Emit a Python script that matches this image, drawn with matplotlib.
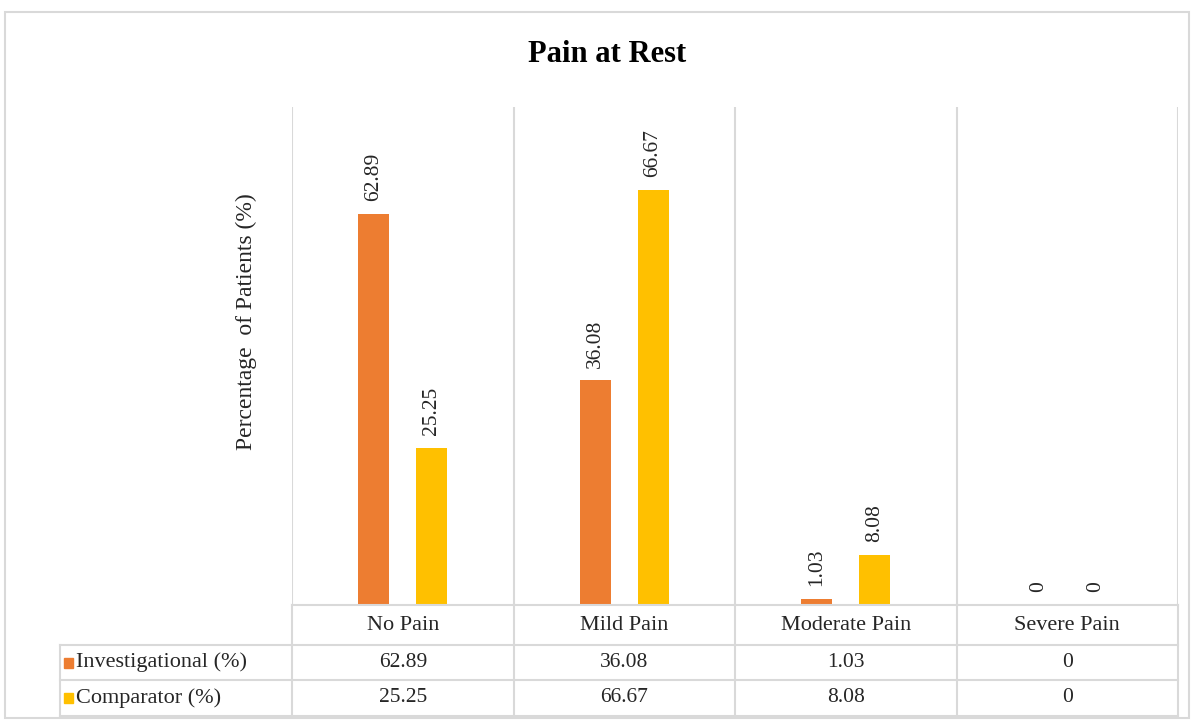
import matplotlib
matplotlib.use("Agg")
import matplotlib.pyplot as plt
from matplotlib.patches import Rectangle
from matplotlib.lines import Line2D
import numpy as np

categories = ["No Pain", "Mild Pain", "Moderate Pain", "Severe Pain"]
investigational = [62.89, 36.08, 1.03, 0]
comparator = [25.25, 66.67, 8.08, 0]
series_names = ["Investigational (%)", "Comparator (%)"]
colors = ["#ED7D31", "#FFC000"]

plt.rcParams['font.family'] = ['Liberation Serif', 'DejaVu Serif']

W, H = 1194, 724
fig = plt.figure(figsize=(W / 100, H / 100), dpi=100)

def fx(px):
    return px / W

def fy(py):
    return 1 - py / H

# outer chart border
fig.patches.append(Rectangle((fx(5), fy(718)), fx(1189) - fx(5), fy(12) - fy(718),
                             transform=fig.transFigure, fill=False,
                             edgecolor="#d9d9d9", linewidth=1.5))

left, right, top, base = 292, 1178, 107, 605
ax = fig.add_axes([fx(left), fy(base), fx(right) - fx(left), fy(top) - fy(base)])

x = np.arange(len(categories))
bw = 0.14
off = 0.13
b1 = ax.bar(x - off, investigational, bw, color=colors[0], label=series_names[0])
b2 = ax.bar(x + off, comparator, bw, color=colors[1], label=series_names[1])

for bars, vals in ((b1, investigational), (b2, comparator)):
    for rect, v in zip(bars, vals):
        ax.annotate(f"{v:g}", (rect.get_x() + rect.get_width() / 2, v),
                    xytext=(0, 9), textcoords="offset points",
                    rotation=90, ha="center", va="bottom", fontsize=15.5, color="#262626")

ax.set_xlim(-0.5, len(categories) - 0.5)
ax.set_ylim(0, 80)
ax.set_xticks([])
ax.set_yticks([])
for s in ax.spines.values():
    s.set_visible(False)
for i in range(len(categories) + 1):
    ax.axvline(i - 0.5, color="#d9d9d9", linewidth=1.5)

ax.set_ylabel("Percentage  of Patients (%)", fontsize=17, color="#262626")
ax.yaxis.set_label_coords(-0.04, 0.57)

fig.text(fx(607), fy(55), "Pain at Rest", ha="center", va="center",
         fontsize=22, fontweight="bold", color="#000000")

# data table
gc = "#d9d9d9"
rows_y = [605, 645, 680, 716]
col_x = [left + (right - left) * i / len(categories) for i in range(len(categories) + 1)]
tl = 60

def hline(x0, x1, y):
    fig.lines.append(Line2D([fx(x0), fx(x1)], [fy(y), fy(y)], transform=fig.transFigure,
                            color=gc, linewidth=1.5))

def vline(xp, y0, y1):
    fig.lines.append(Line2D([fx(xp), fx(xp)], [fy(y0), fy(y1)], transform=fig.transFigure,
                            color=gc, linewidth=1.5))

hline(left, right, rows_y[0])
hline(tl, right, rows_y[1])
hline(tl, right, rows_y[2])
hline(tl, right, rows_y[3])
for cx in col_x:
    vline(cx, rows_y[0], rows_y[3])
vline(tl, rows_y[1], rows_y[3])

for i, c in enumerate(categories):
    cx = (col_x[i] + col_x[i + 1]) / 2
    fig.text(fx(cx), fy((rows_y[0] + rows_y[1]) / 2 + 1), c, ha="center", va="center",
             fontsize=16, color="#262626")

for r, (name, vals, col) in enumerate(zip(series_names, [investigational, comparator], colors)):
    yc = (rows_y[r + 1] + rows_y[r + 2]) / 2
    fig.patches.append(Rectangle((fx(64), fy(yc + 5)), fx(9), fy(0) - fy(10),
                                 transform=fig.transFigure, color=col))
    fig.text(fx(76), fy(yc), name, ha="left", va="center", fontsize=16, color="#262626")
    for i, v in enumerate(vals):
        cx = (col_x[i] + col_x[i + 1]) / 2
        fig.text(fx(cx), fy(yc), f"{v:g}", ha="center", va="center",
                 fontsize=15.5, color="#262626")

fig.savefig("out.png", dpi=100)
